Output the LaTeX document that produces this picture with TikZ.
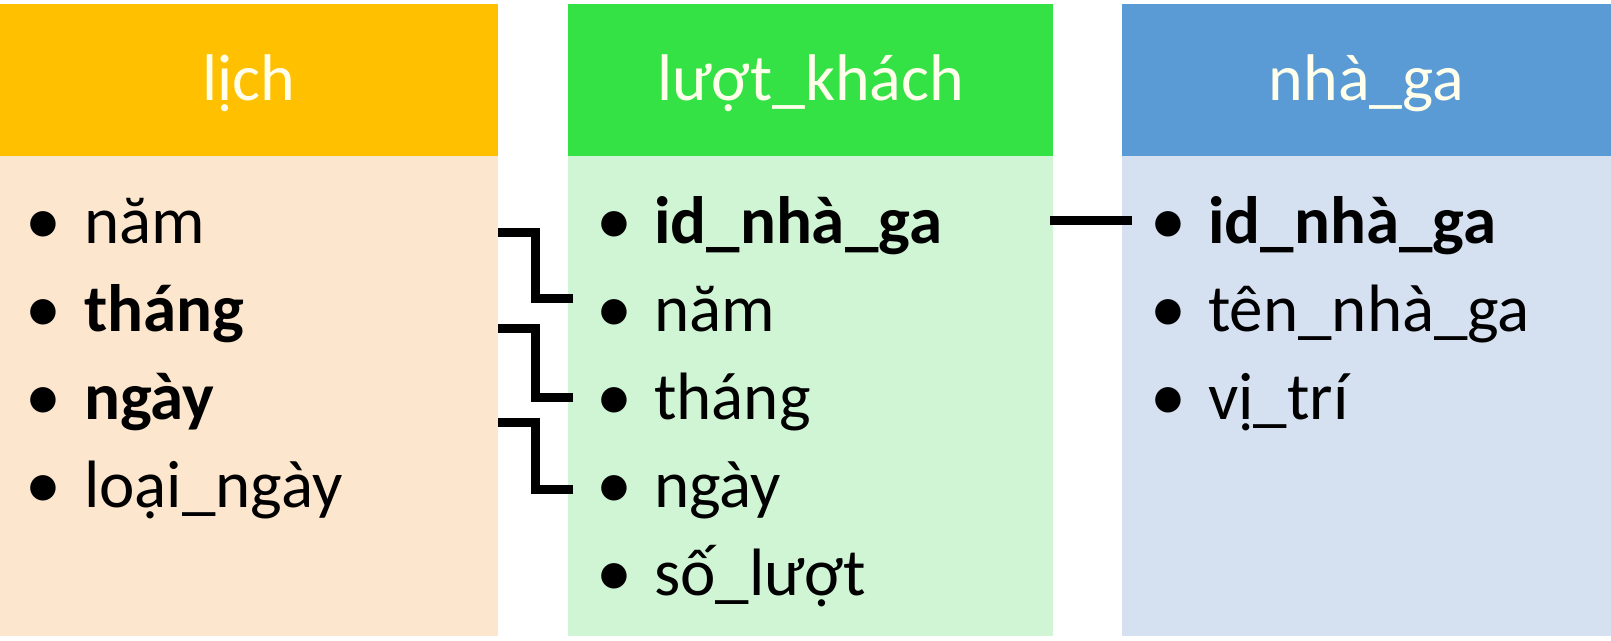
\documentclass[tikz,border=0pt]{standalone}
\usepackage{fontspec}
\setmainfont{Carlito}
\usetikzlibrary{calc}
\definecolor{orH}{RGB}{255,192,0}
\definecolor{orB}{RGB}{253,230,206}
\definecolor{grH}{RGB}{52,226,70}
\definecolor{grB}{RGB}{208,245,212}
\definecolor{blH}{RGB}{91,155,213}
\definecolor{blB}{RGB}{213,224,240}
\definecolor{hdtext}{RGB}{255,255,235}
\tikzset{
  boxnode/.style={inner sep=0pt, outer sep=0pt, anchor=north west, draw=none},
  hdrtext/.style={inner sep=0pt, anchor=base, text=hdtext, font=\fontsize{66}{79}\selectfont},
  rowtext/.style={inner sep=0pt, anchor=base west, text=black, font=\fontsize{67}{80}\selectfont},
  bulletnode/.style={inner sep=0pt, anchor=base, text=black, font=\fontsize{72}{80}\selectfont},
  conn/.style={draw=black, line width=9pt, line join=miter}
}
\begin{document}
\begin{tikzpicture}[x=1pt, y={(0pt,-1pt)}]
\useasboundingbox (0,0) rectangle (1611,640);
% boxes
\node[boxnode, fill=orH, minimum width=498pt, minimum height=152pt] (lichH) at (0,4) {};
\node[boxnode, fill=orB, minimum width=498pt, minimum height=480pt] (lichB) at (0,156) {};
\node[boxnode, fill=grH, minimum width=485pt, minimum height=152pt] (luotH) at (568,4) {};
\node[boxnode, fill=grB, minimum width=485pt, minimum height=480pt] (luotB) at (568,156) {};
\node[boxnode, fill=blH, minimum width=489pt, minimum height=152pt] (gaH) at (1122,4) {};
\node[boxnode, fill=blB, minimum width=489pt, minimum height=480pt] (gaB) at (1122,156) {};
% headers
\node[hdrtext] (lichT) at (249,100) {lịch};
\node[hdrtext] (luotT) at (810.5,100) {lượt\_khách};
\node[hdrtext] (gaT) at (1366.5,100) {nhà\_ga};
% lich rows
\node[bulletnode] (lb1) at (43.5,244) {•};
\node[bulletnode] (lb2) at (43.5,332) {•};
\node[bulletnode] (lb3) at (43.5,420) {•};
\node[bulletnode] (lb4) at (43.5,508) {•};
\node[rowtext] (l1) at (84,243) {năm};
\node[rowtext] (l2) at (84,331) {\bfseries tháng};
\node[rowtext] (l3) at (84,419) {\bfseries ngày};
\node[rowtext] (l4) at (84,507) {loại\_ngày};
% luot rows
\node[bulletnode] (kb1) at (614,244) {•};
\node[bulletnode] (kb2) at (614,332) {•};
\node[bulletnode] (kb3) at (614,420) {•};
\node[bulletnode] (kb4) at (614,508) {•};
\node[bulletnode] (kb5) at (614,596) {•};
\node[rowtext] (k1) at (654,243) {\bfseries id\_nhà\_ga};
\node[rowtext] (k2) at (654,331) {năm};
\node[rowtext] (k3) at (654,419) {tháng};
\node[rowtext] (k4) at (654,507) {ngày};
\node[rowtext] (k5) at (654,595) {số\_lượt};
% ga rows
\node[bulletnode] (gb1) at (1168,244) {•};
\node[bulletnode] (gb2) at (1168,332) {•};
\node[bulletnode] (gb3) at (1168,420) {•};
\node[rowtext] (g1) at (1208,243) {\bfseries id\_nhà\_ga};
\node[rowtext] (g2) at (1208,331) {tên\_nhà\_ga};
\node[rowtext] (g3) at (1208,419) {vị\_trí};
% connector end points
\coordinate (c1s) at (498,232);
\coordinate (c1e) at (573,298);
\coordinate (c2s) at (498,328);
\coordinate (c2e) at (573,397);
\coordinate (c3s) at (498,422);
\coordinate (c3e) at (573,489);
\coordinate (c4s) at (1050,220);
\coordinate (c4e) at (1132,220);
\draw[conn] (c1s) -| ($(c1s)!0.5!(c1e)$) |- (c1e);
\draw[conn] (c2s) -| ($(c2s)!0.5!(c2e)$) |- (c2e);
\draw[conn] (c3s) -| ($(c3s)!0.5!(c3e)$) |- (c3e);
\draw[conn] (c4s) -- (c4e);
\end{tikzpicture}
\end{document}
